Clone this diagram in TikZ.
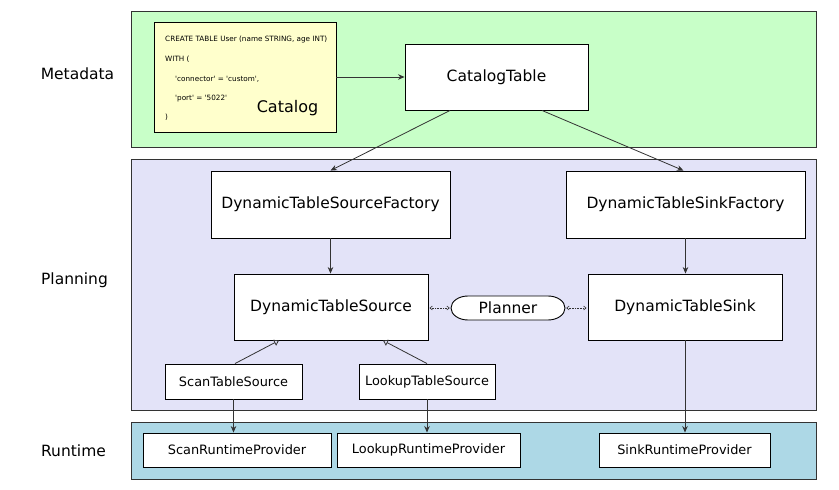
\documentclass[tikz,border=0pt]{standalone}
\usepackage{fontspec}
\setmainfont{DejaVu Sans}
\usetikzlibrary{arrows.meta}
\definecolor{metagreen}{HTML}{C8FFC8}
\definecolor{planblue}{HTML}{E3E3F8}
\definecolor{runblue}{HTML}{ADD8E6}
\definecolor{catyellow}{HTML}{FFFFCC}
\definecolor{edgegray}{HTML}{333333}
\tikzset{
  layer/.style={draw=edgegray, line width=0.9pt, inner sep=0pt, anchor=center},
  bigbox/.style={draw=black, fill=white, line width=0.9pt, inner sep=0pt, font=\fontsize{15.5}{18}\selectfont},
  smallbox/.style={draw=black, fill=white, line width=0.9pt, inner sep=0pt, font=\fontsize{12.9}{15}\selectfont},
  lbl/.style={inner sep=0pt, font=\fontsize{15.5}{18}\selectfont},
  codeline/.style={inner sep=0pt, anchor=west, font=\fontsize{7.25}{9}\selectfont},
  flow/.style={draw=edgegray, line width=0.8pt, -{Stealth[length=6.5pt,width=5.5pt]}},
  inherit/.style={draw=edgegray, line width=0.8pt, -{Triangle[open,length=5pt,width=6.5pt]}},
  plan/.style={draw=edgegray, line width=0.6pt, densely dotted, {Straight Barb[length=2.5pt,width=4pt]}-{Straight Barb[length=2.5pt,width=4pt]}},
}
\begin{document}
\begin{tikzpicture}[x=1pt,y=-1pt]
\useasboundingbox (0,0) rectangle (839,490);
% layers
\node[layer, fill=metagreen, minimum width=685pt, minimum height=136pt] (meta) at (473.5,79) {};
\node[layer, fill=planblue, minimum width=685pt, minimum height=251pt] (planning) at (473.5,284.5) {};
\node[layer, fill=runblue, minimum width=685pt, minimum height=57pt] (runtime) at (473.5,450.5) {};
% layer labels
\node[lbl] (lmeta) at (77.5,74) {Metadata};
\node[lbl] (lplan) at (74.5,280) {Planning};
\node[lbl] (lrun) at (73.5,451) {Runtime};
% catalog
\node[draw=black, fill=catyellow, line width=0.9pt, inner sep=0pt, minimum width=182pt, minimum height=110pt] (catalog) at (245,77) {};
\node[codeline] (c1) at (165,39.3) {CREATE TABLE User (name STRING, age INT)};
\node[codeline] (c2) at (165,59.3) {WITH (};
\node[codeline] (c3) at (175,79.3) {\textquotesingle connector\textquotesingle\ = \textquotesingle custom\textquotesingle,};
\node[codeline] (c4) at (175,98.3) {\textquotesingle port\textquotesingle\ = \textquotesingle 5022\textquotesingle};
\node[codeline] (c5) at (165,117.7) {)};
\node[lbl, font=\fontsize{16}{18}\selectfont] (catlbl) at (287.5,108) {Catalog};
% boxes
\node[bigbox, minimum width=183pt, minimum height=66pt] (ct) at (496.5,77) {CatalogTable};
\node[bigbox, minimum width=239pt, minimum height=67pt] (srcf) at (330.5,204.5) {DynamicTableSourceFactory};
\node[bigbox, minimum width=239pt, minimum height=67pt] (sinkf) at (685.5,204.5) {DynamicTableSinkFactory};
\node[bigbox, minimum width=194pt, minimum height=66pt] (src) at (331,307) {DynamicTableSource};
\node[bigbox, minimum width=194pt, minimum height=66pt] (sink) at (685,307) {DynamicTableSink};
% planner: pill with elliptic ends, drawn first, then its text node on top
\coordinate (pc) at (508,308);
\draw[line width=0.9pt, fill=white] ([xshift=-40pt,yshift=12pt]pc) -- ([xshift=40pt,yshift=12pt]pc)
  arc[start angle=90, end angle=-90, x radius=17pt, y radius=12pt]
  -- ([xshift=-40pt,yshift=-12pt]pc)
  arc[start angle=270, end angle=90, x radius=17pt, y radius=12pt] -- cycle;
\node[lbl, minimum width=114pt, minimum height=24pt] (planner) at (pc) {Planner};
\node[smallbox, minimum width=137pt, minimum height=35pt] (scan) at (233.5,381.5) {ScanTableSource};
\node[smallbox, minimum width=136pt, minimum height=35pt] (lookup) at (427,381.5) {LookupTableSource};
\node[smallbox, minimum width=188pt, minimum height=34pt] (scanrp) at (237,450) {ScanRuntimeProvider};
\node[smallbox, minimum width=183pt, minimum height=34pt] (lookuprp) at (428.5,450) {LookupRuntimeProvider};
\node[smallbox, minimum width=171pt, minimum height=34pt] (sinkrp) at (684.5,450) {SinkRuntimeProvider};
% connectors
\draw[flow] (catalog.east) -- (ct.west);
\draw[flow] ([xshift=-46.5pt]ct.south) -- (srcf.north);
\draw[flow] ([xshift=45.5pt]ct.south) -- ([xshift=-2pt]sinkf.north);
\draw[flow] (srcf.south) -- (srcf.south |- src.north);
\draw[flow] (sinkf.south) -- (sinkf.south |- sink.north);
\draw[plan] ([xshift=1pt]src.east |- planner.west) -- ([xshift=-1pt]planner.west);
\draw[plan] ([xshift=1pt]planner.east) -- ([xshift=-1pt]sink.west |- planner.east);
\draw[inherit] ([xshift=1.5pt]scan.north) -- ([xshift=-52pt]src.south);
\draw[inherit] (lookup.north) -- ([xshift=52pt]src.south);
\draw[flow] (scan.south) -- (scan.south |- scanrp.north);
\draw[flow] (lookup.south) -- (lookup.south |- lookuprp.north);
\draw[flow] (sink.south) -- (sink.south |- sinkrp.north);
\end{tikzpicture}
\end{document}
